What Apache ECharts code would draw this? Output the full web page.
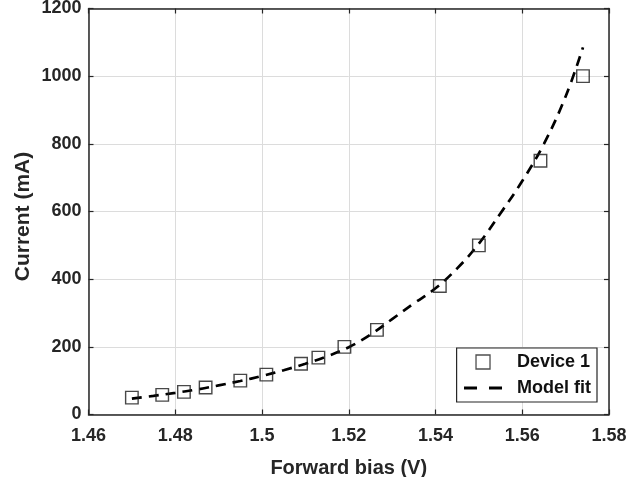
<!DOCTYPE html>
<html><head><meta charset="utf-8">
<script src="https://cdn.jsdelivr.net/npm/echarts@6/dist/echarts.min.js"></script>
<style>html,body{margin:0;padding:0;background:#fff}#c{width:628px;height:477px}</style>
</head><body><div id="c"></div>
<script>
const deviceV = [1.470, 1.477, 1.482, 1.487, 1.495, 1.501, 1.509, 1.513, 1.519, 1.5265, 1.541, 1.550, 1.5642, 1.574];
const deviceI = [50, 58, 67, 80, 100, 118, 150, 168, 200, 250, 380, 500, 750, 1000];
const fitV = [1.470, 1.475, 1.480, 1.485, 1.490, 1.495, 1.500, 1.505, 1.510, 1.515, 1.520, 1.525, 1.530, 1.535, 1.540, 1.545, 1.550, 1.555, 1.560, 1.565, 1.570, 1.574];
const fitI = [47, 55, 64, 74, 86, 99, 114, 131, 150, 172, 199, 236, 282, 328, 373, 432, 505, 595, 690, 800, 940, 1085];
const xTicks = ['1.46', '1.48', '1.5', '1.52', '1.54', '1.56', '1.58'];
const seriesNames = ['Device 1', 'Model fit'];

const font = 'Liberation Sans, Arial, sans-serif';
const txt = '#262626';
const chart = echarts.init(document.getElementById('c'));
const xAxisBase = {
  type: 'value', min: 1.46, max: 1.58, interval: 0.02,
  axisLine: {show: true, onZero: false, lineStyle: {color: '#262626', width: 1.5}},
  axisTick: {show: true, inside: true, length: 5, lineStyle: {color: '#262626', width: 1.2}},
  splitLine: {show: true, lineStyle: {color: '#dcdcdc', width: 1}}
};
const yAxisBase = {
  type: 'value', min: 0, max: 1200, interval: 200,
  axisLine: {show: true, onZero: false, lineStyle: {color: '#262626', width: 1.5}},
  axisTick: {show: true, inside: true, length: 5, lineStyle: {color: '#262626', width: 1.2}},
  splitLine: {show: true, lineStyle: {color: '#dcdcdc', width: 1}}
};
const squarePath = 'path://M0,0H10V10H0Z';
chart.setOption({
  animation: false,
  grid: {left: 88.5, right: 19, top: 8.5, bottom: 62.5, containLabel: false, outerBoundsMode: 'none'},
  xAxis: [
    Object.assign({}, xAxisBase, {
      position: 'bottom',
      name: 'Forward bias (V)', nameLocation: 'middle', nameGap: 43.5,
      nameTextStyle: {fontFamily: font, fontWeight: 'bold', fontSize: 20, color: txt},
      axisLabel: {fontFamily: font, fontWeight: 'bold', fontSize: 18, color: txt, margin: 13,
        formatter: v => { const s = xTicks.find(t => Math.abs(parseFloat(t) - v) < 1e-6); return s || ''; }}
    }),
    Object.assign({}, xAxisBase, {position: 'top', axisLabel: {show: false}, splitLine: {show: false}})
  ],
  yAxis: [
    Object.assign({}, yAxisBase, {
      position: 'left',
      name: 'Current (mA)', nameLocation: 'middle', nameGap: 55, nameMoveOverlap: false,
      nameTextStyle: {fontFamily: font, fontWeight: 'bold', fontSize: 21, color: txt, padding: [0, 10, 0, 0]},
      axisLabel: {fontFamily: font, fontWeight: 'bold', fontSize: 18, color: txt, margin: 7,
        formatter: v => String(v)}
    }),
    Object.assign({}, yAxisBase, {position: 'right', axisLabel: {show: false}, splitLine: {show: false}})
  ],
  legend: {
    right: 31, bottom: 75, orient: 'vertical', align: 'left',
    backgroundColor: '#fff', borderColor: '#262626', borderWidth: 1.2,
    padding: [5, 6, 5, 6], itemGap: 8, itemWidth: 38, itemHeight: 14,
    textStyle: {fontFamily: font, fontWeight: 'bold', fontSize: 18, color: '#111', padding: [0, 0, 0, 10]},
    data: [
      {name: seriesNames[0], icon: squarePath,
        itemStyle: {color: 'rgba(255,255,255,0)', borderColor: '#222', borderWidth: 1.3}},
      {name: seriesNames[1], itemStyle: {opacity: 0},
        lineStyle: {color: '#000', width: 2.8, type: [13, 12]}}
    ]
  },
  series: [
    {
      name: seriesNames[1], type: 'line', smooth: 0.4, symbol: 'none',
      data: fitV.map((v, i) => [v, fitI[i]]),
      lineStyle: {color: '#000', width: 2.7, type: [10, 7]},
      itemStyle: {color: '#000'},
      z: 2
    },
    {
      name: seriesNames[0], type: 'scatter', symbol: 'rect', symbolSize: 12.5, symbolKeepAspect: true,
      data: deviceV.map((v, i) => [v, deviceI[i]]),
      itemStyle: {color: 'rgba(255,255,255,0)', borderColor: '#1a1a1a', borderWidth: 1.4},
      z: 3
    }
  ]
});
</script></body></html>
